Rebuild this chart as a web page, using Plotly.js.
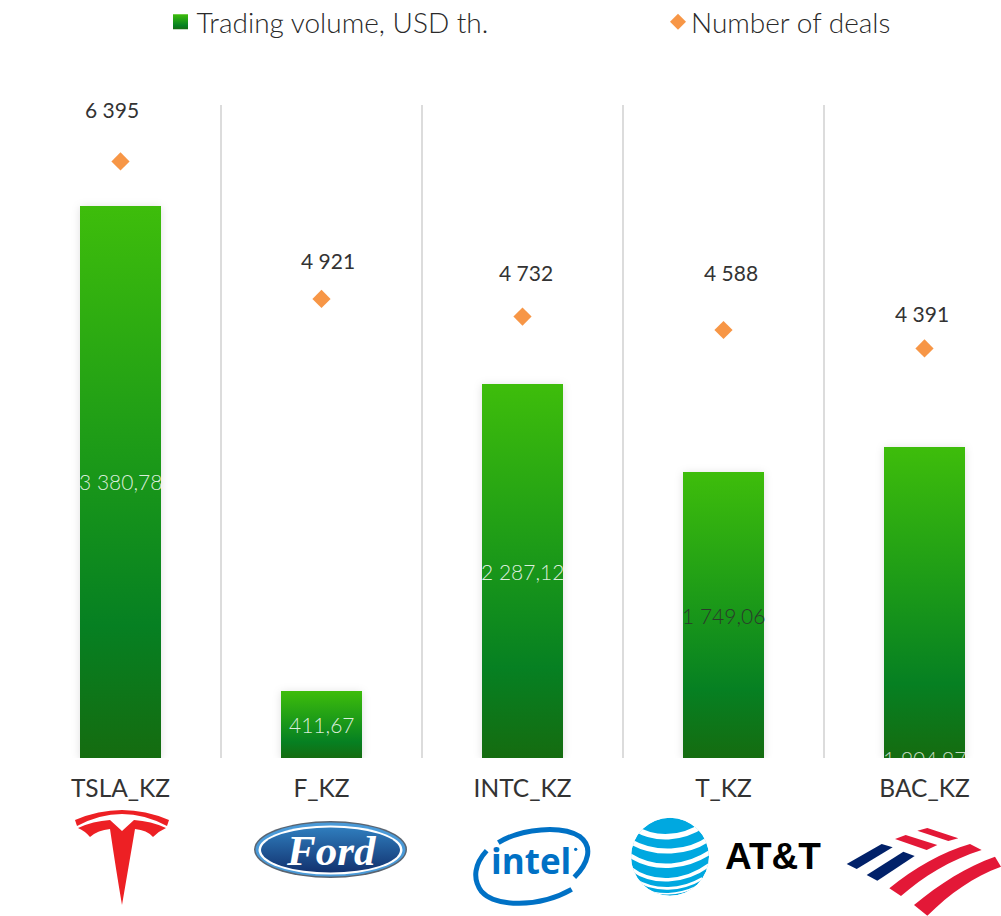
<!DOCTYPE html>
<html>
<head>
<meta charset="utf-8">
<script src="https://cdn.plot.ly/plotly-3.0.1.min.js"></script>
<style>
html,body{margin:0;padding:0;background:#fff;overflow:hidden}
#chart{width:1001px;height:916px}
.barlayer .point path{fill:url(#barGrad)!important;filter:drop-shadow(0 1px 4px rgba(0,0,0,.13))}
path.legendundefined{fill:url(#barGrad)!important;d:path("M7.5,7.5H-7.5V-7.5H7.5Z")}
.legend2 path.scatterpts{d:path("M8,0L0,8L-8,0L0,-8Z")}
text.legendtext{transform:translateX(-4px)}
text.legend2text{transform:translateX(-7px)}
</style>
</head>
<body>
<svg width="0" height="0" style="position:absolute"><defs><linearGradient id="barGrad" x1="0" y1="0" x2="0" y2="1">
<stop offset="0" stop-color="#3EBD0B"/><stop offset="0.45" stop-color="#1c9a18"/><stop offset="0.76" stop-color="#068022"/><stop offset="1" stop-color="#156C10"/>
</linearGradient></defs></svg>
<div id="chart"></div>
<script>
const tickers = ['TSLA_KZ','F_KZ','INTC_KZ','T_KZ','BAC_KZ'];
const volumeUsdTh = [3380.78,411.67,2287.12,1749.06,1904.97];
const deals = [6395,4921,4732,4588,4391];
const volumeLabels = ['3 380,78','411,67','2 287,12','1 749,06','1 904,97'];
const dealLabels = ['6 395','4 921','4 732','4 588','4 391'];

const W = 1001, H = 916, L = 19, T = 105, B = 158;
const plotW = W - L, plotH = H - T - B;
const px = x => (x - L) / plotW;
const py = y => (H - B - y) / plotH;
const font = 'Lato, "Open Sans", sans-serif';
const xIdx = tickers.map((_, i) => i);

const dealShiftX = [-9, 6.5, 3.5, 7.5, -2.5];
const dealShiftY = [52, 38, 44, 58, 35];
const volumeLabelColors = ['rgba(255,255,255,.85)','rgba(255,255,255,.85)','rgba(255,255,255,.85)','#2b3a2b','rgba(255,255,255,.75)'];
const volumeLabelAtBase = [false,false,false,false,true];

function logo(x, y, w, h, vw, vh, inner) {
  const svg = `<svg xmlns="http://www.w3.org/2000/svg" width="${w}" height="${h}" viewBox="0 0 ${vw} ${vh}">${inner}</svg>`;
  return {source:'data:image/svg+xml;charset=utf-8,'+encodeURIComponent(svg), xref:'paper', yref:'paper',
    x:px(x), y:py(y), sizex:w/plotW, sizey:h/plotH, xanchor:'left', yanchor:'top', sizing:'stretch', layer:'above'};
}
const tesla = `<g fill="#ED2024"><path d="M0,10 Q47,-10 94,10 L92,16 Q47,-8 2,16 Z"/><path d="M3,18 Q18,11 35,10 L47,21 L59,10 Q76,11 91,18 Q84,21 78,27 Q72,20 60,19 Q53,60 47,95 Q41,60 35,19 Q23,20 15,27 Q10,21 3,18 Z"/></g>`;
const ford = `<defs><linearGradient id="f" x1="0" y1="0" x2="0" y2="1"><stop offset="0" stop-color="#2f7dbd"/><stop offset="1" stop-color="#12326f"/></linearGradient></defs>
<ellipse cx="76.5" cy="28.5" rx="76.5" ry="28.5" fill="#5a6470"/><ellipse cx="76.5" cy="28.5" rx="75" ry="27" fill="#4a9ad8"/><ellipse cx="76.5" cy="29" rx="72" ry="24.5" fill="#fff"/><ellipse cx="76.5" cy="29" rx="69.5" ry="22.5" fill="url(#f)"/>`;
const intel = `<g fill="none" stroke="#0071C5" stroke-width="15" stroke-linecap="butt"><path d="M100,68 C170,25 290,15 345,50 C385,80 370,130 328,172"/><path d="M65,92 C30,130 20,175 50,215 C90,260 220,265 320,208"/></g><circle cx="332" cy="88" r="5" fill="#0071C5"/>`;
const att = `<defs><clipPath id="g"><circle cx="135" cy="140" r="117"/></clipPath></defs><g clip-path="url(#g)"><circle cx="135" cy="140" r="117" fill="#00A8E0"/><g fill="none" stroke="#fff"><path stroke-width="17" d="M30,55 C90,92 170,88 235,45"/><path stroke-width="15" d="M12,92 C90,138 190,132 258,82"/><path stroke-width="13" d="M8,132 C90,188 190,172 262,122"/><path stroke-width="11" d="M10,170 C80,228 180,218 252,165"/><path stroke-width="8" d="M25,206 C90,248 170,242 232,205"/><path stroke-width="5" d="M50,236 C100,258 160,256 210,232"/></g></g>`;
const bofa = `<g fill="#E31837"><path d="M232,32 L262,24 L355,55 L325,63 Z"/><path d="M165,57 L197,45 L292,75 L260,90 Z"/><path d="M148,205 C220,145 310,95 390,72 L425,90 C330,120 250,170 183,228 Z"/><path d="M222,255 C300,190 380,140 465,110 L483,140 C400,170 330,220 262,287 Z"/></g><g fill="#012169"><path d="M20,132 L125,72 L158,82 L50,147 Z"/><path d="M80,165 L190,95 L224,108 L112,182 Z"/></g>`;

const images = [
  logo(75,810,94,96,94,96,tesla),
  logo(254,821,153,57,153,57,ford),
  logo(465,820,135,92,405,276,intel),
  logo(625,810,205,90,615,270,att),
  logo(840,820,161,96,483,288,bofa)
];

const annotations = [];
xIdx.forEach(i => {
  annotations.push({x:i, y:volumeLabelAtBase[i] ? 0 : volumeUsdTh[i]/2, xref:'x', yref:'y', text:volumeLabels[i], showarrow:false,
    font:{family:font, size:21, color:volumeLabelColors[i], weight:300}, xanchor:'center', yanchor:'middle'});
  annotations.push({x:i, y:deals[i], xref:'x', yref:'y2', text:dealLabels[i], showarrow:false, xshift:dealShiftX[i], yshift:dealShiftY[i],
    font:{family:font, size:21, color:'#333'}, xanchor:'center', yanchor:'middle'});
});
annotations.push({xref:'paper', yref:'paper', x:px(331), y:py(850), text:'<b><i>Ford</i></b>', showarrow:false,
  font:{family:'"Liberation Serif", serif', size:43, color:'#fff'}, xanchor:'center', yanchor:'middle'});
annotations.push({xref:'paper', yref:'paper', x:px(531), y:py(860), text:'<b>intel</b>', showarrow:false,
  font:{family:'"Open Sans", sans-serif', size:35, color:'#0071C5'}, xanchor:'center', yanchor:'middle'});
annotations.push({xref:'paper', yref:'paper', x:px(773), y:py(856), text:'<b>AT&amp;T</b>', showarrow:false,
  font:{family:'"Liberation Sans", sans-serif', size:37, color:'#000'}, xanchor:'center', yanchor:'middle'});

const data = [
  {type:'bar', name:'Trading volume, USD th.', x:xIdx, y:volumeUsdTh, width:0.405, marker:{color:'#1c9a18', line:{width:0}}, yaxis:'y', legend:'legend', hoverinfo:'skip'},
  {type:'scatter', mode:'markers', name:'Number of deals', x:xIdx, y:deals, marker:{symbol:'diamond', size:14, color:'#F79646'}, yaxis:'y2', legend:'legend2', hoverinfo:'skip'}
];
const legendFont = {family:font, size:28, color:'#2a2a2a', weight:300};
const layout = {
  width:W, height:H, paper_bgcolor:'#fff', plot_bgcolor:'#fff',
  margin:{l:L, r:0, t:T, b:B, pad:0, autoexpand:false},
  font:{family:font, color:'#333'},
  xaxis:{range:[-0.505, 4.3806], tickmode:'array', tickvals:xIdx, ticktext:tickers, tickfont:{size:24.5, color:'#333', family:font},
    ticks:'', showgrid:false, zeroline:false, showline:false, ticklabelstandoff:13,
    minor:{tickmode:'array', tickvals:[-0.5,0.5,1.5,2.5,3.5], showgrid:true, gridcolor:'#dcdcdc', gridwidth:2, ticks:''}},
  yaxis:{range:[0,3998], visible:false, showgrid:false, zeroline:false},
  yaxis2:{range:[0,7000], visible:false, overlaying:'y', showgrid:false, zeroline:false},
  legend:{x:px(160.5), xanchor:'left', y:py(-3), yanchor:'top', font:legendFont, bgcolor:'rgba(0,0,0,0)'},
  legend2:{x:px(658), xanchor:'left', y:py(-3), yanchor:'top', font:legendFont, bgcolor:'rgba(0,0,0,0)'},
  showlegend:true, bargap:0,
  annotations, images
};

Plotly.newPlot('chart', data, layout, {displayModeBar:false, staticPlot:true});
</script>
</body>
</html>
